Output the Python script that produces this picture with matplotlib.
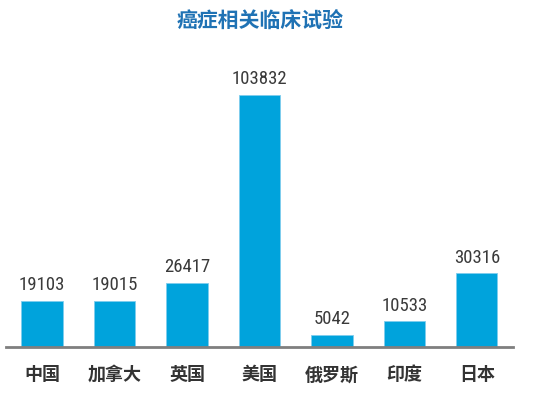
import numpy as np
import matplotlib.pyplot as plt

plt.rcParams['font.family'] = ['Noto Sans CJK SC', 'DejaVu Sans']

countries = ['中国', '加拿大', '英国', '美国', '俄罗斯', '印度', '日本']
trials = [19103, 19015, 26417, 103832, 5042, 10533, 30316]

fig = plt.figure(figsize=(5.35, 3.98), dpi=100)
ax = fig.add_axes([0.011, 0.128, 0.948, 0.721])

x = np.arange(len(countries))
ax.bar(x, trials, width=0.57, color='#00a3dc', edgecolor='#7fcdee', linewidth=0.6)

# value labels above bars
for xi, v in zip(x, trials):
    ax.text(xi, v + 2800, str(v), ha='center', va='bottom', fontsize=13.5,
            color='#3a3a3a', family=['Roboto Condensed', 'DejaVu Sans'],
            fontstretch='condensed', fontweight='normal')

ax.set_xlim(-0.5, 6.5)
ax.set_ylim(0, 118000)
ax.set_xticks(x)
ax.set_xticklabels(countries, fontsize=13, fontweight='bold', color='#333333')
ax.tick_params(axis='x', length=0, pad=13)
ax.set_yticks([])
for s in ['top', 'right', 'left']:
    ax.spines[s].set_visible(False)
ax.spines['bottom'].set_color('#7f7f7f')
ax.spines['bottom'].set_linewidth(2)

fig.text(0.487, 0.948, '癌症相关临床试验', ha='center', va='center', fontsize=15,
         fontweight='bold', color='#1f72b4')

fig.savefig('out.png', dpi=100)
